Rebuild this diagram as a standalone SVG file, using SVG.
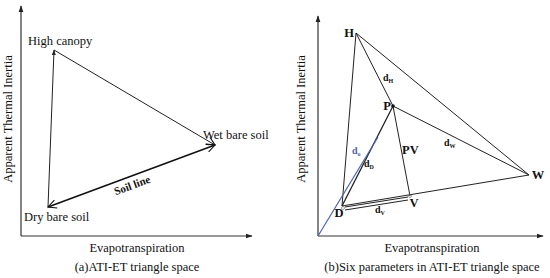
<svg xmlns="http://www.w3.org/2000/svg" width="550" height="278" viewBox="0 0 550 278">
<style>
text{font-family:"Liberation Serif","Times New Roman",serif;fill:#111}
.lbl{font-size:12.5px}
.b{font-weight:bold}
.ln{stroke:#222;stroke-width:1;fill:none}
.ax{stroke:#333;stroke-width:1.2;fill:none}
</style>
<defs>
<marker id="fa" viewBox="0 0 10 10" refX="9" refY="5" markerWidth="6" markerHeight="6" orient="auto"><path d="M0,1.5 L10,5 L0,8.5 z" fill="#222"/></marker>
<marker id="oa" viewBox="0 0 12 12" refX="11" refY="6" markerWidth="10" markerHeight="10" markerUnits="userSpaceOnUse" orient="auto-start-reverse"><path d="M1,1 L11,6 L1,11" fill="none" stroke="#111" stroke-width="1.3"/></marker>
</defs>
<rect width="550" height="278" fill="#fff"/>
<g id="connectors">
<line class="ax" x1="21" y1="236" x2="21" y2="6" marker-end="url(#fa)"/>
<line class="ax" x1="21" y1="236" x2="252" y2="236" marker-end="url(#fa)"/>
<line class="ln" x1="48" y1="207" x2="54" y2="50" marker-end="url(#fa)"/>
<line class="ln" x1="54" y1="50" x2="215" y2="145" marker-end="url(#oa)"/>
<line x1="48" y1="207" x2="215" y2="145" stroke="#111" stroke-width="1.6" marker-start="url(#oa)" marker-end="url(#oa)"/>
<line class="ax" x1="318" y1="236" x2="318" y2="16" marker-end="url(#fa)"/>
<line class="ax" x1="318" y1="236" x2="543" y2="236" marker-end="url(#fa)"/>
<line class="ln" x1="356" y1="33" x2="529" y2="175"/>
<line class="ln" x1="356" y1="33" x2="342" y2="206"/>
<line class="ln" x1="356" y1="33" x2="393" y2="106"/>
<line class="ln" x1="393" y1="106" x2="529" y2="175"/>
<line x1="393" y1="106" x2="342" y2="206" stroke="#222" stroke-width="1.3"/>
<line class="ln" x1="393" y1="106" x2="410" y2="196"/>
<line class="ln" x1="342" y1="206" x2="529" y2="175"/>
<line x1="318" y1="236" x2="378" y2="137" stroke="#4a63b0" stroke-width="1.2"/>
<line class="ln" x1="345" y1="207" x2="408" y2="197" stroke-width="0.7"/>
<line class="ln" x1="345" y1="210" x2="408" y2="200" stroke-width="0.7"/>
<circle cx="393" cy="106" r="1.8" fill="#111"/>
<circle cx="410" cy="196" r="1.5" fill="none" stroke="#666" stroke-width="0.6"/>
<circle cx="343" cy="208" r="1.5" fill="none" stroke="#666" stroke-width="0.6"/>
</g>
<g id="left-labels">
<text class="lbl" x="9" y="119" text-anchor="middle" dominant-baseline="middle" transform="rotate(-90 9 119)">Apparent Thermal Inertia</text>
<g id="high-canopy"><text class="lbl" x="28" y="45">High canopy</text></g>
<g id="wet-bare-soil"><text class="lbl" x="203" y="139">Wet bare soil</text></g>
<g id="dry-bare-soil"><text class="lbl" x="24" y="221">Dry bare soil</text></g>
<text class="b" x="132" y="189" text-anchor="middle" font-size="11" transform="rotate(-20.4 132 185)">Soil line</text>
<text class="lbl" x="137" y="252" text-anchor="middle">Evapotranspiration</text>
<text class="lbl" x="137" y="271" text-anchor="middle">(a)ATI-ET triangle space</text>
</g>
<g id="right-labels">
<text class="lbl" x="302" y="119" text-anchor="middle" dominant-baseline="middle" transform="rotate(-90 302 119)">Apparent Thermal Inertia</text>
<g id="node-H"><text class="lbl b" x="349" y="37" text-anchor="middle">H</text></g>
<g id="node-P"><text class="lbl b" x="387" y="110" text-anchor="middle">P</text></g>
<g id="node-W"><text class="lbl b" x="538" y="179" text-anchor="middle">W</text></g>
<g id="node-D"><text class="lbl b" x="339" y="217" text-anchor="middle">D</text></g>
<g id="node-V"><text class="lbl b" x="414" y="207" text-anchor="middle">V</text></g>
<text class="b" x="383" y="81" font-size="10">d<tspan font-size="6" dy="2">H</tspan></text>
<text class="b" x="444" y="146" font-size="10">d<tspan font-size="6" dy="2">W</tspan></text>
<text class="b" x="352" y="154" font-size="10" style="fill:#4a63b0">d<tspan font-size="6" dy="2">o</tspan></text>
<text class="b" x="364" y="167" font-size="10">d<tspan font-size="6" dy="2">D</tspan></text>
<text class="b" x="375" y="213" font-size="10">d<tspan font-size="6" dy="2">V</tspan></text>
<text class="lbl b" x="402" y="154">PV</text>
<text class="lbl" x="432" y="252" text-anchor="middle">Evapotranspiration</text>
<text class="lbl" x="432" y="271" text-anchor="middle">(b)Six parameters in ATI-ET triangle space</text>
</g>
</svg>
